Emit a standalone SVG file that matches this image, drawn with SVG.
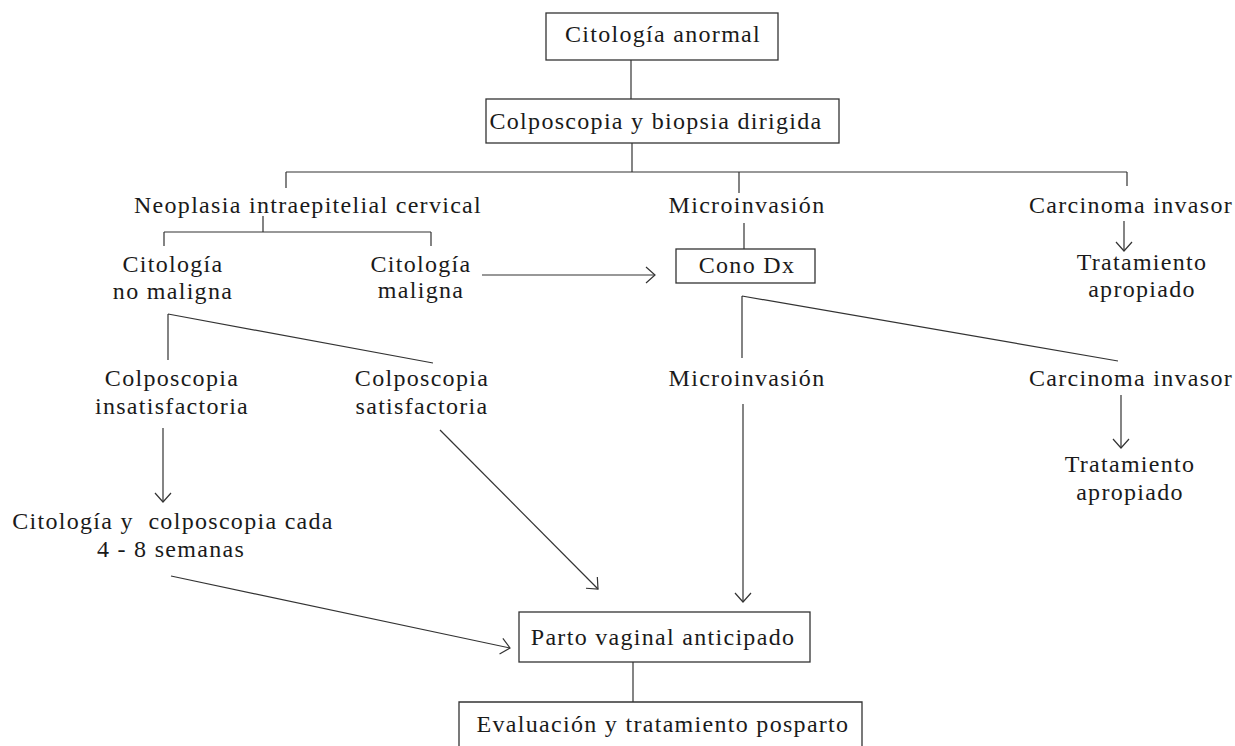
<svg xmlns="http://www.w3.org/2000/svg" width="1235" height="746" viewBox="0 0 1235 746">
<defs>
<style>
.t{font-family:"Liberation Serif","Times New Roman",serif;font-size:24px;letter-spacing:1.3px;fill:#1a1a1a;text-anchor:middle}
.b{fill:#fff;stroke:#333;stroke-width:1.3}
.c{fill:none;stroke:#333;stroke-width:1.2}
.a{marker-end:url(#arr)}
</style>
<marker id="arr" markerUnits="userSpaceOnUse" markerWidth="12" markerHeight="20" refX="10" refY="9" orient="auto">
<path d="M1,1 L10,9 L1,17" fill="none" stroke="#333" stroke-width="1.2"/>
</marker>
</defs>
<rect width="1235" height="746" fill="#fff"/>
<g id="connectors">
<path class="c" d="M631,60 V99"/>
<path class="c" d="M632,143 V172"/>
<path class="c" d="M286,172 H1127"/>
<path class="c" d="M286,172 V188 M739,172 V193 M1127,172 V186"/>
<path class="c" d="M263,216 V232 M164,232 H431 M164,232 V246 M431,232 V246"/>
<path class="c a" d="M482,275 H655"/>
<path class="c" d="M744,223 V249"/>
<path class="c a" d="M1124,221 V251"/>
<path class="c" d="M168,314 V360 M168,314 L433,363"/>
<path class="c" d="M742,296 V358 M742,296 L1118,361"/>
<path class="c a" d="M163,428 V502"/>
<path class="c a" d="M440,430 L598,589"/>
<path class="c a" d="M743,404 V602"/>
<path class="c a" d="M1121,395 V448"/>
<path class="c a" d="M171,576 L510,648"/>
<path class="c" d="M633,662 V702"/>
</g>
<g id="n1"><rect class="b" x="546" y="13" width="232" height="47"/><text class="t" x="663" y="42">Citología anormal</text></g>
<g id="n2"><rect class="b" x="486" y="99" width="353" height="44"/><text class="t" x="656" y="129">Colposcopia y biopsia dirigida</text></g>
<g id="n3"><text class="t" x="308" y="213">Neoplasia intraepitelial cervical</text></g>
<g id="n4"><text class="t" x="747" y="213">Microinvasión</text></g>
<g id="n5"><text class="t" x="1131" y="213">Carcinoma invasor</text></g>
<g id="n6"><text class="t" x="173" y="272">Citología</text><text class="t" x="173" y="299">no maligna</text></g>
<g id="n7"><text class="t" x="421" y="272">Citología</text><text class="t" x="421" y="298">maligna</text></g>
<g id="n8"><rect class="b" x="676" y="249" width="139" height="34"/><text class="t" x="747" y="273">Cono Dx</text></g>
<g id="n9"><text class="t" x="1142" y="270">Tratamiento</text><text class="t" x="1142" y="297">apropiado</text></g>
<g id="n10"><text class="t" x="172" y="386">Colposcopia</text><text class="t" x="172" y="414">insatisfactoria</text></g>
<g id="n11"><text class="t" x="422" y="386">Colposcopia</text><text class="t" x="422" y="414">satisfactoria</text></g>
<g id="n12"><text class="t" x="747" y="386">Microinvasión</text></g>
<g id="n13"><text class="t" x="1131" y="386">Carcinoma invasor</text></g>
<g id="n14"><text class="t" x="1130" y="472">Tratamiento</text><text class="t" x="1130" y="500">apropiado</text></g>
<g id="n15"><text class="t" x="173" y="529" xml:space="preserve">Citología y  colposcopia cada</text><text class="t" x="171" y="557">4 - 8 semanas</text></g>
<g id="n16"><rect class="b" x="519" y="612" width="291" height="50"/><text class="t" x="663" y="645">Parto vaginal anticipado</text></g>
<g id="n17"><path class="b" d="M459,747 V702 H862 V747"/><text class="t" x="663" y="732">Evaluación y tratamiento posparto</text></g>
</svg>
